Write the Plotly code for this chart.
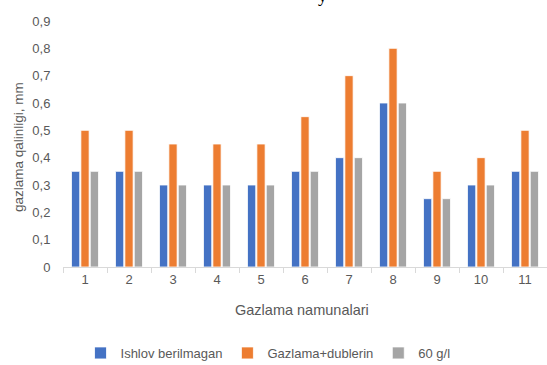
import plotly.graph_objects as go

categories = ["1", "2", "3", "4", "5", "6", "7", "8", "9", "10", "11"]
ishlov = [0.35, 0.35, 0.30, 0.30, 0.30, 0.35, 0.40, 0.60, 0.25, 0.30, 0.35]
gazlama_dub = [0.50, 0.50, 0.45, 0.45, 0.45, 0.55, 0.70, 0.80, 0.35, 0.40, 0.50]
g60 = [0.35, 0.35, 0.30, 0.30, 0.30, 0.35, 0.40, 0.60, 0.25, 0.30, 0.35]
series_names = ["Ishlov berilmagan", "Gazlama+dublerin", "60 g/l"]
tick_vals = [0, 0.1, 0.2, 0.3, 0.4, 0.5, 0.6, 0.7, 0.8, 0.9]
tick_text = ["0", "0,1", "0,2", "0,3", "0,4", "0,5", "0,6", "0,7", "0,8", "0,9"]

colors = ["#4472C4", "#ED7D31", "#A5A5A5"]
font = "Liberation Sans, Arial, sans-serif"

W, H = 547, 365
L, R, T, B = 63, 0, 21, 98
ph = H - T - B
pw = W - L - R


def py(p):
    return (H - B - p) / ph


def px(p):
    return (p - L) / pw


fig = go.Figure()
for name, vals, c in zip(series_names, [ishlov, gazlama_dub, g60], colors):
    fig.add_trace(go.Bar(x=categories, y=vals, name=name, marker_color=c,
                         marker_line_color="rgba(255,255,255,0.8)", marker_line_width=1))

fig.update_layout(
    width=W, height=H,
    margin=dict(l=L, r=R, t=T, b=B, autoexpand=False),
    paper_bgcolor="white", plot_bgcolor="white",
    barmode="group", bargap=0.36, bargroupgap=0.12,
    font=dict(family=font, color="#595959", size=12),
    legend=dict(orientation="h", x=0.49, xanchor="center", xref="container",
                y=1 - 353 / H, yanchor="middle", yref="container",
                font=dict(size=13, color="#595959"), itemwidth=30, traceorder="normal"),
    xaxis=dict(showline=True, linecolor="#D9D9D9", linewidth=1, ticks="outside",
               tickson="boundaries", ticklen=5, tickcolor="#D9D9D9", automargin=False,
               tickfont=dict(size=13, color="#595959"), showgrid=False),
    yaxis=dict(range=[0, 0.9], tickvals=tick_vals, ticktext=tick_text, showgrid=False,
               automargin=False, zeroline=False, tickfont=dict(size=13, color="#595959"),
               ticks="outside", ticklen=9, tickcolor="rgba(0,0,0,0)"),
    annotations=[
        dict(text="Gazlama namunalari", xref="paper", x=px(302), yref="paper", y=py(310),
             yanchor="middle", showarrow=False, font=dict(size=14.5, color="#595959")),
        dict(text="gazlama qalinligi, mm", xref="paper", x=px(18), yref="paper", y=py(147),
             xanchor="center", yanchor="middle", textangle=-90, showarrow=False,
             font=dict(size=13.5, color="#595959")),
        dict(text="y", xref="paper", x=px(322), yref="paper", y=py(-4),
             yanchor="middle", showarrow=False,
             font=dict(size=18, color="black", family="Liberation Serif")),
    ],
)

fig.write_html("out.html")
